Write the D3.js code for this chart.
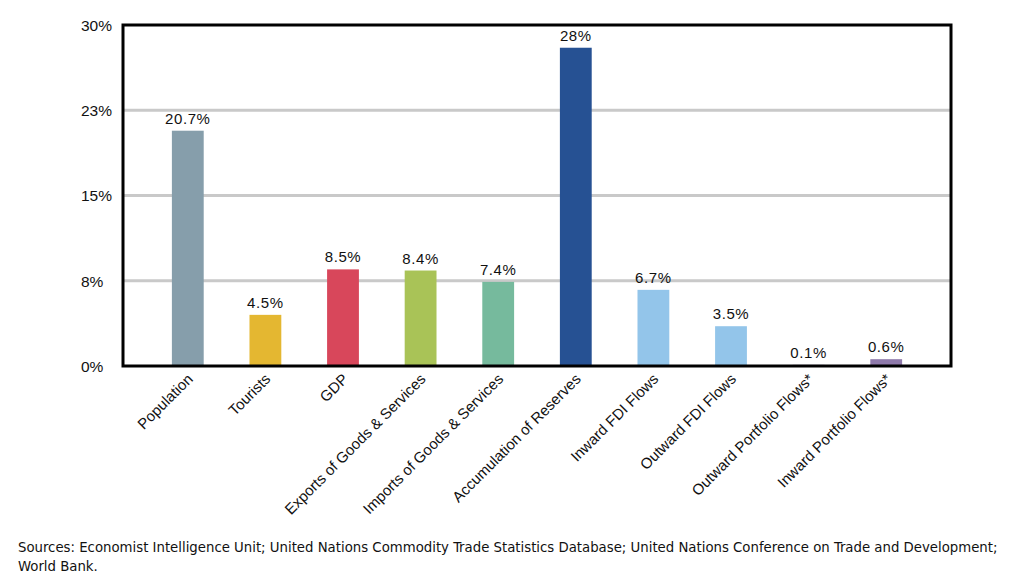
<!DOCTYPE html>
<html><head><meta charset="utf-8">
<script src="https://cdn.jsdelivr.net/npm/d3@7"></script>
<style>
html,body{margin:0;padding:0;background:#fff;}
svg{display:block;}
</style></head>
<body>
<svg id="chart" width="1010" height="579"></svg>
<script>
const categories = ["Population","Tourists","GDP","Exports of Goods & Services","Imports of Goods & Services","Accumulation of Reserves","Inward FDI Flows","Outward FDI Flows","Outward Portfolio Flows*","Inward Portfolio Flows*"];
const values = [20.7, 4.5, 8.5, 8.4, 7.4, 28, 6.7, 3.5, 0.1, 0.6];
const valueLabels = ["20.7%","4.5%","8.5%","8.4%","7.4%","28%","6.7%","3.5%","0.1%","0.6%"];
const colors = ["#869eab","#e4b731","#d8475b","#a9c357","#76ba9d","#265193","#93c5ea","#93c5ea","#8f7aab","#8f7aab"];
const tickValues = [0, 7.5, 15, 22.5, 30];
const tickLabels = ["0%","8%","15%","23%","30%"];
const sourceLines = ["Sources: Economist Intelligence Unit; United Nations Commodity Trade Statistics Database; United Nations Conference on Trade and Development;","World Bank."];

const svg = d3.select("#chart");
const L = 123, R = 951, T = 25, B = 366;
const FONT = "'Liberation Sans', Arial, Helvetica, sans-serif";
const x = d3.scaleBand().domain(categories).range([L, R]).paddingInner(0.59).paddingOuter(0.63);
const y = d3.scaleLinear().domain([0, 30]).range([B, T]);

// gridlines
svg.append("g").selectAll("line").data(tickValues.filter(v => v > 0 && v < 30)).join("line")
  .attr("x1", L).attr("x2", R).attr("y1", d => y(d)).attr("y2", d => y(d))
  .attr("stroke", "#c9c9c9").attr("stroke-width", 3);

// bars
svg.append("g").selectAll("rect").data(values).join("rect")
  .attr("x", (d, i) => x(categories[i])).attr("width", x.bandwidth())
  .attr("y", d => y(d)).attr("height", d => B - y(d))
  .attr("fill", (d, i) => colors[i]);

// value labels
svg.append("g").selectAll("text").data(values).join("text")
  .attr("x", (d, i) => x(categories[i]) + x.bandwidth() / 2)
  .attr("y", d => y(d) - 7)
  .attr("text-anchor", "middle")
  .attr("font-family", FONT)
  .attr("font-size", 15).attr("letter-spacing", 0.6).attr("fill", "#111")
  .text((d, i) => valueLabels[i]);

// frame
svg.append("rect").attr("x", L).attr("y", T).attr("width", R - L).attr("height", B - T)
  .attr("fill", "none").attr("stroke", "#000").attr("stroke-width", 3);

// y axis labels
const yAxis = d3.axisLeft(y).tickValues(tickValues).tickFormat((d, i) => tickLabels[i]).tickSize(0).tickPadding(0);
const gy = svg.append("g").attr("transform", "translate(81,0)").call(yAxis);
gy.select(".domain").remove();
gy.selectAll("text").attr("text-anchor", "start").attr("x", 0).attr("dy", "0.35em")
  .attr("font-family", FONT).attr("font-size", 15.5).attr("fill", "#111");

// x axis labels
const xAxis = d3.axisBottom(x).tickSize(0).tickPadding(0);
const gx = svg.append("g").attr("transform", `translate(0,${B})`).call(xAxis);
gx.select(".domain").remove();
gx.selectAll("text")
  .attr("text-anchor", "end").attr("dy", 0).attr("y", 0)
  .attr("transform", "translate(6,14) rotate(-45)")
  .attr("font-family", FONT).attr("font-size", 15).attr("fill", "#111");

// sources
const src = svg.append("g").attr("font-family", "'Liberation Sans Narrow', 'DejaVu Sans Condensed', sans-serif")
  .attr("fill", "#111");
const t1 = src.append("text").attr("x", 18).attr("y", 552).attr("font-size", 15).text(sourceLines[0]);
const w = t1.node().getComputedTextLength();
const fs = Math.min(16, 15 * 980 / w);
t1.attr("font-size", fs);
src.append("text").attr("x", 18).attr("y", 571).attr("font-size", fs).text(sourceLines[1]);
</script>
</body></html>
